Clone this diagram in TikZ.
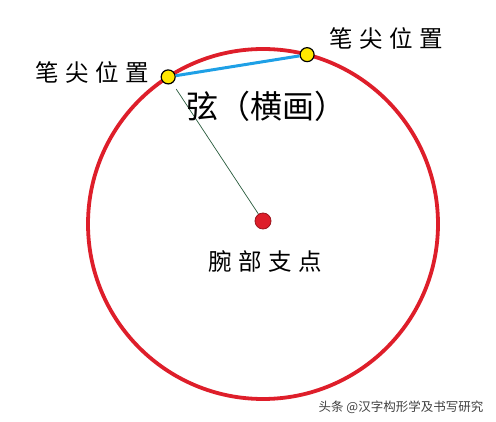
\documentclass[tikz,border=0pt]{standalone}
\usepackage{fontspec}
\newfontfamily\cjk[LetterSpace=28]{Noto Sans CJK SC}
\newfontfamily\cjkplain{Noto Sans CJK SC}
\definecolor{rimred}{RGB}{222,30,42}
\definecolor{chordblue}{RGB}{30,160,230}
\definecolor{tipyellow}{RGB}{255,232,0}
\definecolor{armgreen}{RGB}{40,90,60}
\begin{document}
\begin{tikzpicture}[x=1pt, y=-1pt,
    rim/.style = {draw = rimred, line width = 3.8pt},
    chord/.style = {draw = chordblue, line width = 3pt},
    arm/.style = {draw = armgreen, line width = 0.7pt},
    pendot/.style = {circle, fill = tipyellow, draw = black, line width = 1.2pt,
                     minimum size = 14pt, inner sep = 0pt},
    pivotdot/.style = {circle, fill = rimred, draw = rimred!70!black, line width = 0.8pt,
                       minimum size = 16pt, inner sep = 0pt},
    label/.style = {font = \cjk\fontsize{23.5}{23.5}\selectfont, inner sep = 0pt}]

    \useasboundingbox (0, 0) rectangle (496, 422);

    \coordinate (O) at (263, 224);
    \draw [rim] (O) circle (175pt); % wrist circle

    \node [pendot] (tipL) at ([shift = {(122.8:175pt)}] O) {};
    \node [pendot] (tipR) at ([shift = {(75.4:175pt)}] O) {};
    \node [pivotdot] (pivot) at (263, 221) {};

    \draw [chord] (tipL) -- (tipR); % chord
    \draw [arm, shorten < = 7pt] (tipL) -- (pivot); % arm to pivot

    \node [label] (labL) at (92, 72) {笔尖位置};
    \node [label] (labR) at (386, 38) {笔尖位置};
    \node [font = \cjkplain\fontsize{32}{32}\selectfont, inner sep = 0pt]
          (xian) at (266, 106) {弦（横画）};
    \node [label] (labP) at (265, 262) {腕部支点};

    \node [font = \cjkplain\fontsize{12.5}{12.5}\selectfont, text = black!75, inner sep = 0pt]
          (mark) at (401, 407) {头条 @汉字构形学及书写研究};
\end{tikzpicture}
\end{document}
